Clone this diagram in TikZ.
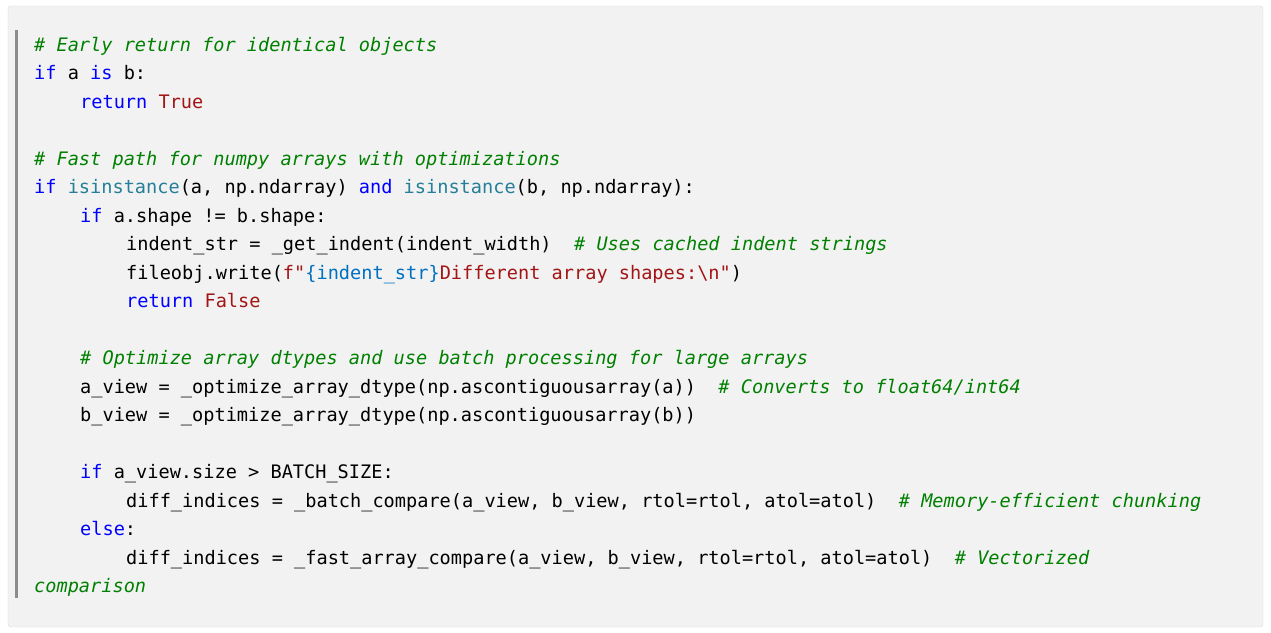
\documentclass[tikz,border=0pt]{standalone}
\usepackage{fontspec}
\setmonofont{DejaVu Sans Mono}
\definecolor{kw}{HTML}{0000FF}
\definecolor{cm}{HTML}{008000}
\definecolor{st}{HTML}{A31515}
\definecolor{bi}{HTML}{267F99}
\definecolor{fx}{HTML}{0070C1}
\definecolor{pane}{HTML}{F2F2F2}
\newcommand\kw[1]{\textcolor{kw}{#1}}
\newcommand\cm[1]{\textcolor{cm}{\itshape #1}}
\newcommand\st[1]{\textcolor{st}{#1}}
\newcommand\bi[1]{\textcolor{bi}{#1}}
\tikzset{
  codeline/.style={anchor=base west, inner sep=0pt,
    font=\ttfamily\fontsize{18.6}{20}\selectfont},
}
\begin{document}
\begin{tikzpicture}[x=1pt, y=-1pt]
  \useasboundingbox (0,0) rectangle (1271,632);
  \draw[fill=pane, draw=black!15, rounded corners=3pt] (8,6) rectangle (1263,627);
  \fill[black!45] (15,30) rectangle (18,598);
  % code lines
  \node[codeline] (l1) at (34,{44+7}) {\cm{\# Early return for identical objects}};
  \node[codeline] (l2) at (34,{44+1*28.5+7}) {\kw{if} a \kw{is} b:};
  \node[codeline] (l3) at (80,{44+2*28.5+7}) {\kw{return} \st{True}};
  \node[codeline] (l5) at (34,{44+4*28.5+7}) {\cm{\# Fast path for numpy arrays with optimizations}};
  \node[codeline] (l6) at (34,{44+5*28.5+7}) {\kw{if} \bi{isinstance}(a, np.ndarray) \kw{and} \bi{isinstance}(b, np.ndarray):};
  \node[codeline] (l7) at (80,{44+6*28.5+7}) {\kw{if} a.shape != b.shape:};
  \node[codeline] (l8) at (126,{44+7*28.5+7}) {indent\_str = \_get\_indent(indent\_width)\ \ \cm{\# Uses cached indent strings}};
  \node[codeline] (l9) at (126,{44+8*28.5+7}) {fileobj.write(\st{f"}\textcolor{fx}{\{indent\_str\}}\st{Different array shapes:\textbackslash n"})};
  \node[codeline] (l10) at (126,{44+9*28.5+7}) {\kw{return} \st{False}};
  \node[codeline] (l12) at (80,{44+11*28.5+7}) {\cm{\# Optimize array dtypes and use batch processing for large arrays}};
  \node[codeline] (l13) at (80,{44+12*28.5+7}) {a\_view = \_optimize\_array\_dtype(np.ascontiguousarray(a))\ \ \cm{\# Converts to float64/int64}};
  \node[codeline] (l14) at (80,{44+13*28.5+7}) {b\_view = \_optimize\_array\_dtype(np.ascontiguousarray(b))};
  \node[codeline] (l16) at (80,{44+15*28.5+7}) {\kw{if} a\_view.size > BATCH\_SIZE:};
  \node[codeline] (l17) at (126,{44+16*28.5+7}) {diff\_indices = \_batch\_compare(a\_view, b\_view, rtol=rtol, atol=atol)\ \ \cm{\# Memory-efficient chunking}};
  \node[codeline] (l18) at (80,{44+17*28.5+7}) {\kw{else}:};
  \node[codeline] (l19) at (126,{44+18*28.5+7}) {diff\_indices = \_fast\_array\_compare(a\_view, b\_view, rtol=rtol, atol=atol)\ \ \cm{\# Vectorized}};
  \node[codeline] (l20) at (34,{44+19*28.5+7}) {\cm{comparison}};
\end{tikzpicture}
\end{document}
